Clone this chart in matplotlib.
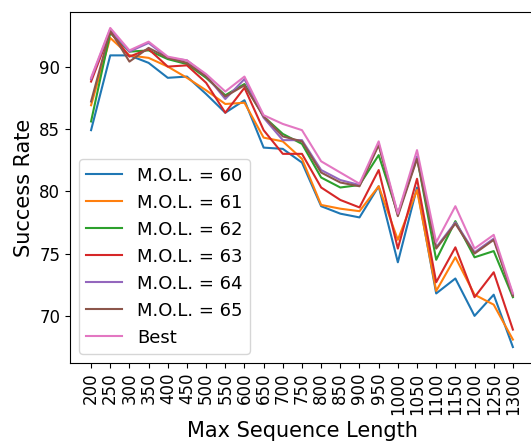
import numpy as np
import matplotlib
matplotlib.use("Agg")
import matplotlib.pyplot as plt

seq_len = [200, 250, 300, 350, 400, 450, 500, 550, 600, 650, 700, 750,
           800, 850, 900, 950, 1000, 1050, 1100, 1150, 1200, 1250, 1300]

mol_60 = [84.9, 90.9, 90.9, 90.3, 89.1, 89.2, 87.8, 86.3, 87.3, 83.5, 83.4, 82.3,
          78.8, 78.2, 77.9, 80.4, 74.3, 80.3, 71.8, 73.0, 70.0, 71.7, 67.5]
mol_61 = [86.9, 92.3, 90.9, 90.7, 90.0, 89.1, 88.1, 87.0, 87.1, 84.3, 84.0, 82.6,
          78.9, 78.6, 78.4, 80.4, 76.1, 80.1, 72.0, 74.7, 71.7, 70.9, 68.1]
mol_62 = [85.6, 92.7, 91.2, 91.3, 90.6, 90.2, 89.1, 87.7, 88.6, 86.0, 84.6, 83.8,
          81.1, 80.3, 80.5, 82.9, 78.2, 82.7, 74.5, 77.6, 74.7, 75.2, 71.5]
mol_63 = [88.8, 92.8, 90.8, 91.4, 90.0, 90.1, 88.7, 86.3, 88.3, 84.9, 83.0, 83.0,
          80.3, 79.3, 78.7, 81.7, 75.4, 81.0, 72.7, 75.5, 71.5, 73.5, 68.9]
mol_64 = [89.0, 93.0, 91.2, 91.9, 90.7, 90.5, 89.3, 87.4, 89.0, 85.9, 84.1, 84.1,
          81.7, 80.9, 80.5, 83.8, 78.1, 82.8, 75.5, 77.5, 75.1, 76.2, 71.7]
mol_65 = [87.2, 92.9, 90.4, 91.5, 90.7, 90.3, 89.2, 87.6, 88.5, 86.0, 84.4, 84.0,
          81.5, 80.7, 80.4, 83.7, 78.0, 82.6, 75.4, 77.4, 75.0, 76.1, 71.6]
best = [89.1, 93.1, 91.3, 92.0, 90.8, 90.5, 89.4, 88.0, 89.2, 86.1, 85.4, 84.9,
        82.4, 81.5, 80.6, 84.0, 78.2, 83.3, 75.9, 78.8, 75.4, 76.5, 71.8]

series = [
    ("M.O.L. = 60", mol_60),
    ("M.O.L. = 61", mol_61),
    ("M.O.L. = 62", mol_62),
    ("M.O.L. = 63", mol_63),
    ("M.O.L. = 64", mol_64),
    ("M.O.L. = 65", mol_65),
    ("Best", best),
]

fig = plt.figure(figsize=(5.31, 4.43), dpi=100)
ax = fig.add_axes([0.1318, 0.1806, 0.8738, 0.7923])

x = np.arange(len(seq_len))
for label, vals in series:
    ax.plot(x, vals, label=label, linewidth=1.5)

ax.set_xticks(x)
ax.set_xticklabels([str(s) for s in seq_len], rotation=90, fontsize=12)
ax.set_yticks([70, 75, 80, 85, 90])
ax.tick_params(axis="y", labelsize=12)
ax.set_xlabel("Max Sequence Length", fontsize=15)
ax.set_ylabel("Success Rate", fontsize=15)
ax.legend(loc="lower left", fontsize=13)

fig.savefig("out.png", dpi=100)
